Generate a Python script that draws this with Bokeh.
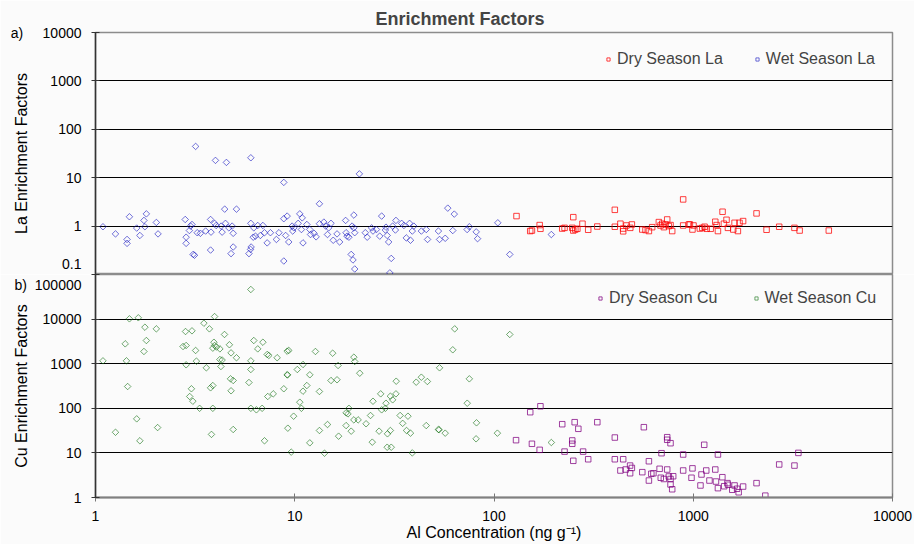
from bokeh.plotting import figure
from bokeh.layouts import column
from bokeh.models import Range1d, FixedTicker, Legend, LegendItem
from bokeh.embed import file_html
from bokeh.resources import INLINE
import math

FONT = "Liberation Sans"
NB = "\u00a0"

# ---------------- data ----------------
x_ticks = [1, 10, 100, 1000, 10000]
x_tick_labels = ["1", "10", "100", "1000", "10000"]
la_ticks = [0.1, 1, 10, 100, 1000, 10000]
la_tick_labels = ["0.1", "1", "10", "100", "1000", "10000"]
cu_ticks = [1, 10, 100, 1000, 10000, 100000]
cu_tick_labels = ["1", "10", "100", "1000", "10000", "100000"]
panel_tags = ["a)", "b)"]

la_dry_al = [129.7, 152, 155, 169.5, 171, 220, 226, 250, 247, 250, 256, 262, 278, 297, 330,
             404, 404, 431, 445, 445, 462, 483, 492, 555, 576, 599, 622, 672, 685, 699, 712,
             726, 740, 754, 769, 784, 890, 890, 950, 962, 991, 1003, 1079, 1110, 1140, 1168,
             1223, 1290, 1310, 1330, 1403, 1425, 1469, 1493, 1588, 1612, 1675, 1706, 1779,
             2078, 2333, 2700, 3221, 3419, 4790]
la_dry_ef = [1.61, 0.79, 0.81, 1.05, 0.88, 0.89, 0.92, 1.53, 0.92, 0.81, 0.85, 0.88, 1.12, 0.84, 0.98,
             2.17, 0.97, 1.12, 0.89, 0.78, 1.03, 0.92, 1.08, 0.85, 0.83, 0.79, 0.95, 1.21, 1.03, 1.12, 0.95,
             1.08, 1.37, 1.0, 1.05, 0.79, 3.56, 1.03, 1.08, 1.08, 0.85, 1.03, 0.89, 0.92, 0.97, 0.88,
             0.88, 1.23, 1.05, 0.79, 1.98, 1.12, 1.35, 0.92, 0.85, 1.17, 0.79, 1.17, 1.27,
             1.83, 0.84, 0.97, 0.92, 0.81, 0.81]

la_wet_al = [3.18, 4.0, 4.54, 6.02, 8.81,
             1.09, 1.26, 1.44, 1.44, 1.48, 1.61, 1.67, 1.75, 1.80, 1.77, 2.02, 2.06,
             2.82, 2.85, 2.85, 3.0, 3.05, 2.96, 3.09, 3.14, 3.24, 3.36, 3.57, 3.78, 3.78, 3.8,
             3.96, 4.03, 4.27, 4.32, 4.45, 4.49, 4.67, 4.85, 4.91, 4.91, 4.79, 5.10, 5.89, 6.0,
             6.04, 6.02, 6.23, 6.19, 6.35, 6.52, 6.92, 6.72, 7.05, 7.27, 7.55, 8.09, 8.33, 8.81,
             8.81, 9.16, 9.0, 9.33,
             21.1, 13.3, 9.7, 9.77, 9.9, 10.6, 10.9, 10.4, 10.8, 11.0, 11.5, 11.9, 12.0, 12.5,
             12.8, 13.3, 14.0, 14.3, 14.6, 14.8, 15.2, 15.6, 16.3, 16.8, 18.0, 18.1, 18.3, 18.7,
             19.2, 19.6, 20.0, 19.8, 19.8, 20.0, 19.4, 22.6, 23.1, 24.3, 24.7, 25.7, 27.3, 26.7,
             28.5, 28.7, 29.6, 29.1, 30.5, 30.0, 31.0, 32.2, 32.0, 34.4, 35.3, 36.3, 38.1, 37.7,
             39.6, 38.9, 43.2, 45.7, 46.4, 52.6, 53.3, 56.9, 58.6, 63.2, 62.1, 73.3, 75.2, 81.4,
             82.7, 104.5, 120, 194]
la_wet_ef = [44.3, 22.8, 20.7, 25.8, 8.0,
             0.97, 0.69, 0.53, 0.44, 1.56, 0.91, 0.64, 1.31, 1.79, 0.97, 1.19, 0.69,
             1.37, 0.59, 0.44, 1.0, 1.08, 0.81, 0.26, 0.25, 0.73, 0.71, 0.79, 1.37, 0.32, 0.75,
             1.14, 1.03, 1.0, 0.75, 2.24, 1.14, 0.92, 1.0, 0.71, 0.37, 0.27, 2.24, 0.27, 0.33,
             0.37, 1.14, 0.92, 0.59, 0.62, 1.03, 1.03, 0.64, 0.73, 0.45, 0.73, 0.53, 0.73, 0.19,
             1.42, 1.61, 0.64, 0.47,
             12.0, 2.89, 1.0, 0.79, 0.92, 1.79, 1.48, 1.14, 0.85, 0.45, 1.08, 0.85, 0.67, 0.71,
             0.60, 1.12, 1.21, 1.0, 0.67, 0.92, 1.14, 0.51, 0.69, 0.47, 1.31, 0.73, 0.62, 0.59,
             0.26, 0.20, 0.13, 1.69, 0.92, 0.73, 1.0, 0.73, 0.59, 0.92, 0.79, 0.85, 1.61, 0.62,
             0.83, 0.95, 0.47, 0.64, 0.215, 0.108, 1.0, 1.31, 0.83, 1.14, 1.03, 0.57, 0.51, 1.14,
             1.0, 0.79, 0.79, 0.85, 0.53, 0.79, 0.53, 0.56, 2.35, 1.77, 0.81, 0.85, 0.97, 0.76,
             0.55, 1.17, 0.26, 0.67]

cu_dry_al = [171, 152, 220, 254, 265, 330, 565, 129, 155, 169.5, 226, 247, 247, 280, 250, 297,
             404, 404, 445, 431, 458, 482, 492, 482, 555, 599, 599, 616, 631, 693, 740, 740, 769,
             678, 687, 712, 740, 754, 769, 793, 769, 784, 890, 890, 991, 980, 1100, 1087, 1135,
             1162, 1206, 1290, 1300, 1330, 1330, 1400, 1430, 1485, 1495, 1570, 1612, 1660, 1690,
             1779, 2078, 2300, 2700, 3221, 3370]
cu_dry_ef = [111, 81.8, 44, 48.8, 34.7, 48.8, 37.7, 19.3, 16, 11.7, 10.7, 19, 16, 10.7, 6.65, 7.2,
             22.1, 7.2, 7.2, 4.03, 4.24, 5.2, 4.6, 3.5, 3.7, 6.5, 2.4, 3.4, 3.5, 9.85, 22.5, 19.7, 16.5,
             4.4, 2.77, 2.6, 4.24, 2.96, 2.6, 3.0, 1.96, 1.53, 9.2, 4.03, 4.5, 2.77, 3.28, 1.86, 15.2,
             4.03, 2.4, 4.24, 2.28, 9.2, 1.62, 2.85, 1.79, 2.1, 1.93, 1.49, 1.86, 1.57, 1.31,
             1.76, 2.1, 1.1, 5.5, 5.2, 10.0]

cu_wet_al = [6.02, 1.48, 1.64, 1.77, 2.02, 1.41, 1.80, 1.75, 1.09, 1.43, 1.45, 1.61, 1.26, 1.67, 2.05,
             2.83, 3.05, 2.75, 2.85, 3.18, 3.50, 3.73, 3.96, 3.93, 3.96, 3.88, 4.05, 4.21, 4.44,
             4.21, 4.32, 4.7, 4.79, 5.10, 2.85, 3.21, 3.6, 4.26, 3.03, 2.97, 3.08, 3.33, 3.78,
             3.88, 3.88, 3.82, 4.76, 4.91, 4.79, 4.91, 6.02, 6.02, 5.89, 6.02, 6.42, 6.86, 6.23,
             6.52, 6.92, 7.27, 7.41, 8.16, 7.32, 7.80, 7.05,
             9.16, 9.33, 9.16, 9.2, 8.81, 9.87, 9.23, 9.6, 10.3, 11.0, 10.6, 10.8, 11.0, 11.5,
             11.9, 11.9, 12.7, 13.3, 13.3, 14.1, 14.6, 15.5, 16.5, 15.2, 16.3, 16.6, 19.8, 20.0,
             21.2, 18.1, 18.7, 18.5, 18.1, 19.2, 19.8, 20.8, 22.8, 24.0, 24.5, 24.7, 26.5, 27.0,
             27.3, 28.7, 28.5, 29.2, 29.1, 30.5, 30.2, 30.2, 31.0, 32.2, 32.3, 33.8, 34.8, 36.4,
             37.0, 38.1, 38.9, 40.7, 43.2, 46.3, 45.7, 52.6, 53.0, 56.9, 53.3, 62.1, 63.5, 75.2,
             73.4, 81.7, 81.3, 120, 104, 194]
cu_wet_ef = [46100, 10150, 10700, 6580, 6050, 2790, 3310, 1880, 1160, 1160, 308, 58, 29, 18.7, 37,
             5270, 5460, 2430, 2560, 1980, 8090, 6050, 11400, 3030, 2560, 2230, 2360, 2150, 4520,
             1240, 1210, 2660, 1750, 1360, 945, 1140, 809, 865, 274, 184, 144, 100, 288,
             324, 100, 26, 458, 420, 247, 33.5, 1160, 741, 379, 100, 92.5, 100, 3310,
             2150, 3030, 1610, 1530, 1360, 184, 211, 18.7,
             1910, 1980, 564, 560, 274, 66.5, 35.8, 10.4, 741, 959, 137, 100, 242, 324,
             564, 16.8, 1880, 238, 31.8, 9.85, 43.3, 1720, 912, 420, 436, 23.7, 1400, 1120,
             612, 79, 100, 75, 41, 30.7, 55, 55, 45, 69, 17.4, 144, 30.7, 211,
             92.5, 130, 100, 26.8, 13.4, 13.4, 31.8, 187, 155, 211, 405, 69, 46, 31.8,
             66.5, 27.7, 10, 385, 498, 399, 41, 33.5, 33, 27.7, 809, 2050, 6050, 458,
             130, 47.3, 20.7, 4520, 27.7, 17.1]

# ---------------- styling helpers ----------------
BG = "#FBFBFB"
W = 914
x_range = Range1d(1, 10000)
DIAMOND_ANGLE = math.pi / 4


def style_y(p, ticks, labels, axis_label, label_standoff):
    ax = p.yaxis[0]
    ax.ticker = FixedTicker(ticks=ticks)
    ax.major_label_overrides = labels
    ax.axis_label = axis_label
    ax.axis_label_text_font = FONT
    ax.axis_label_text_font_size = "16px"
    ax.axis_label_text_font_style = "normal"
    ax.axis_label_text_color = "black"
    ax.axis_label_standoff = label_standoff
    ax.major_label_text_font = FONT
    ax.major_label_text_font_size = "14px"
    ax.major_label_text_color = "black"
    ax.major_label_text_line_height = 0.15
    ax.major_label_standoff = 10
    ax.major_tick_in = 4
    ax.major_tick_out = 4
    ax.major_tick_line_color = "#333333"
    ax.minor_tick_line_color = None
    ax.axis_line_color = "#333333"
    ax.axis_line_width = 1.5
    p.ygrid.ticker = FixedTicker(ticks=ticks)
    p.ygrid.grid_line_color = "black"
    p.ygrid.grid_line_width = 1
    p.xgrid.visible = False


def base_fig(height, y_range, **kw):
    p = figure(width=W, height=height, x_axis_type="log", y_axis_type="log",
               x_range=x_range, y_range=y_range, output_backend="svg",
               toolbar_location=None, min_border_left=95, min_border_right=22, **kw)
    p.background_fill_color = BG
    p.border_fill_color = BG
    p.outline_line_color = "#8C8C8C"
    p.outline_line_width = 1.5
    return p


# ---------------- top panel: La ----------------
p1 = base_fig(274, Range1d(0.1, 10000), x_axis_location=None,
              min_border_top=32, min_border_bottom=0)
p1.title.text = "Enrichment Factors"
p1.title.align = "left"
p1.title.offset = 280
p1.title.text_font = FONT
p1.title.text_font_size = "18px"
p1.title.text_font_style = "bold"
p1.title.standoff = 7

la_labels = dict(zip(la_ticks, la_tick_labels))
# bottom label is lifted above the shared edge; panel tag sits left of the top label
la_labels[la_ticks[0]] = la_tick_labels[0] + "\n" + NB
la_labels[la_ticks[-1]] = panel_tags[0] + NB * 5 + la_tick_labels[-1]
style_y(p1, la_ticks, la_labels, "La Enrichment Factors", -22)

r_la_wet = p1.scatter(la_wet_al, la_wet_ef, marker="square", angle=DIAMOND_ANGLE, size=4.6,
                      fill_color=None, line_color="#1010C0", line_alpha=0.6, line_width=1)
r_la_dry = p1.scatter(la_dry_al, la_dry_ef, marker="square", size=5.5,
                      fill_color=None, line_color="#FF0000", line_alpha=0.75, line_width=1)

leg1 = Legend(items=[LegendItem(label="Dry Season La", renderers=[r_la_dry]),
                     LegendItem(label="Wet Season La", renderers=[r_la_wet])],
              orientation="horizontal", location=(509, 206), border_line_color=None,
              background_fill_alpha=0, padding=0, margin=0, spacing=30, label_standoff=5,
              glyph_width=8, glyph_height=18, label_height=18,
              label_text_font=FONT, label_text_font_size="16px")
p1.add_layout(leg1)

# ---------------- bottom panel: Cu ----------------
p2 = base_fig(270, Range1d(1, 100000), min_border_top=0, min_border_bottom=47)
cu_labels = dict(zip(cu_ticks, cu_tick_labels))
cu_labels[cu_ticks[-1]] = NB + "\n" + panel_tags[1] + NB * 2 + cu_tick_labels[-1]
style_y(p2, cu_ticks, cu_labels, "Cu Enrichment Factors", -18)

xa = p2.xaxis[0]
xa.ticker = FixedTicker(ticks=x_ticks)
xa.major_label_overrides = dict(zip(x_ticks, x_tick_labels))
xa.axis_label = "Al Concentration (ng g\u207b\u00b9)"
xa.axis_label_text_font = FONT
xa.axis_label_text_font_size = "16px"
xa.axis_label_text_font_style = "normal"
xa.axis_label_text_color = "black"
xa.axis_label_standoff = 0
xa.major_label_text_font = FONT
xa.major_label_text_font_size = "14px"
xa.major_label_text_color = "black"
xa.major_label_standoff = 9
xa.major_tick_in = 4
xa.major_tick_out = 4
xa.major_tick_line_color = "#777777"
xa.minor_tick_line_color = None
xa.axis_line_color = "#808080"
xa.axis_line_width = 2

r_cu_dry = p2.scatter(cu_dry_al, cu_dry_ef, marker="square", size=5.5,
                      fill_color=None, line_color="#800080", line_alpha=0.75, line_width=1)
r_cu_wet = p2.scatter(cu_wet_al, cu_wet_ef, marker="square", angle=DIAMOND_ANGLE, size=4.6,
                      fill_color=None, line_color="#107010", line_alpha=0.6, line_width=1)

leg2 = Legend(items=[LegendItem(label="Dry Season Cu", renderers=[r_cu_dry]),
                     LegendItem(label="Wet Season Cu", renderers=[r_cu_wet])],
              orientation="horizontal", location=(501, 190), border_line_color=None,
              background_fill_alpha=0, padding=0, margin=0, spacing=34, label_standoff=5,
              glyph_width=8, glyph_height=18, label_height=18,
              label_text_font=FONT, label_text_font_size="16px")
p2.add_layout(leg2)

layout = column(p1, p2, spacing=0)
open("out.html", "w").write(file_html(layout, INLINE))
